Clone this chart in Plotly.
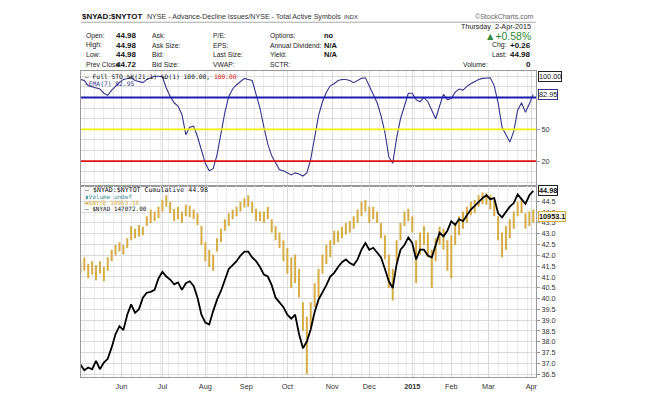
import plotly.graph_objects as go
import pandas as pd

# ---------------- data ----------------
holidays = ["2014-05-26", "2014-07-04", "2014-09-01", "2014-11-27",
            "2014-12-25", "2015-01-01", "2015-01-19", "2015-02-16"]
trade_days = pd.bdate_range("2014-05-01", "2015-04-02", freq="C", holidays=holidays)
day_idx = list(range(len(trade_days)))
sample_idx = day_idx[::2]   # one reading every second trading day

month_labels = ["Jun", "Jul", "Aug", "Sep", "Oct", "Nov", "Dec", "<b>2015</b>", "Feb", "Mar", "Apr"]

sto_levels = [80, 50, 20]
sto_level_colors = ["#1c1cb0", "#f4f000", "#e01010"]

sto = [97, 96, 91, 90, 89, 88, 84, 82, 87, 91,
       94, 97, 98, 98.6, 96, 95, 94, 97, 98.6, 100,
       100, 99.5, 89, 81, 75, 72, 64, 45, 52, 53,
       43, 30, 18, 11, 13, 26, 46, 66, 81, 88,
       92, 95, 98, 97, 96, 83, 70, 52, 36, 25,
       18, 12, 11, 8.6, 7, 9, 8, 6, 9, 22,
       43, 63, 76, 85, 91, 93, 96, 97, 97, 96,
       94, 96, 98, 98.6, 90, 83, 75, 63, 47, 24,
       18, 42, 60, 72, 84, 84, 78, 76, 80, 76,
       68, 60, 72, 83, 78, 79, 85, 88, 87, 90.5,
       93, 95, 97, 98, 98.6, 98.6, 91, 75, 52, 45,
       38, 48, 68, 75, 66, 74, 82.95]

cum = [36.95, 36.68, 36.81, 36.73, 37.12, 36.73, 37.04, 37.21, 37.74, 38.36,
       38.72, 38.54, 39.25, 39.73, 39.34, 39.51, 40.04, 40.27, 40.31, 40.40,
       40.93, 41.24, 41.02, 40.88, 40.66, 40.75, 40.40, 40.71, 40.80, 40.58,
       40.04, 39.25, 38.89, 38.80, 39.42, 39.95, 40.35, 40.84, 41.37, 41.55,
       41.73, 41.99, 42.17, 42.17, 41.90, 41.73, 41.46, 41.11, 41.02, 40.62,
       40.04, 39.82, 39.60, 39.25, 39.07, 39.25, 38.36, 37.70, 38.01, 38.58,
       39.38, 39.95, 40.27, 40.62, 41.02, 41.19, 41.46, 41.68, 41.81, 41.64,
       41.55, 41.81, 42.26, 42.57, 42.26, 42.35, 42.13, 41.90, 41.37, 40.80,
       40.48, 41.59, 42.26, 42.48, 42.83, 42.57, 41.81, 42.26, 42.26, 41.99,
       41.90, 42.53, 43.05, 42.88, 43.14, 43.58, 43.41, 43.67, 43.58, 43.85,
       44.12, 44.29, 44.47, 44.65, 44.78, 44.60, 44.65, 43.94, 43.76, 44.03,
       44.25, 44.42, 44.82, 44.60, 44.38, 44.78, 44.98]

nyse_high = [10720, 10731, 10695, 10710, 10689, 10710, 10679, 10731, 10772, 10798,
             10813, 10798, 10834, 10901, 10886, 10906, 10896, 10953, 10989, 10979,
             11005, 11041, 11067, 11031, 10994, 11005, 10979, 11015, 11010, 10989,
             10969, 10901, 10813, 10772, 10746, 10834, 10886, 10937, 10969, 10989,
             11005, 11031, 11051, 11067, 11031, 10994, 10979, 10979, 11005, 10937,
             10901, 10865, 10824, 10782, 10731, 10746, 10669, 10488, 10410, 10488,
             10591, 10669, 10746, 10798, 10824, 10875, 10875, 10896, 10917, 10927,
             10953, 10989, 11031, 11041, 11005, 11005, 10979, 10917, 10850, 10746,
             10669, 10824, 10917, 10979, 10994, 10953, 10824, 10865, 10901, 10865,
             10772, 10834, 10896, 10886, 10824, 10850, 10917, 10953, 10979, 11005,
             11031, 11041, 11067, 11082, 11077, 11067, 11041, 10953, 10865, 10901,
             10937, 10979, 11031, 11046, 10969, 10979, 10989]

nyse_low = [10643, 10658, 10617, 10638, 10607, 10643, 10601, 10658, 10710, 10741,
            10762, 10746, 10782, 10824, 10834, 10844, 10850, 10901, 10917, 10927,
            10943, 10979, 11005, 10969, 10927, 10937, 10917, 10953, 10948, 10937,
            10906, 10798, 10710, 10679, 10658, 10762, 10813, 10875, 10901, 10937,
            10953, 10979, 11000, 11005, 10969, 10927, 10927, 10917, 10937, 10865,
            10824, 10782, 10710, 10643, 10565, 10591, 10514, 10333, 10100, 10358,
            10462, 10514, 10643, 10695, 10731, 10798, 10813, 10834, 10855, 10865,
            10886, 10917, 10953, 10979, 10917, 10937, 10917, 10834, 10720, 10565,
            10498, 10710, 10824, 10901, 10927, 10865, 10591, 10746, 10798, 10731,
            10565, 10710, 10798, 10772, 10658, 10617, 10798, 10850, 10886, 10917,
            10958, 10969, 11005, 11020, 11015, 10989, 10953, 10824, 10731, 10772,
            10834, 10886, 10953, 10969, 10886, 10901, 10917]

nyse_last = 10953.16
nyad_last = 147072.00
last_close, prev_close, chg, chg_pct = 44.98, 44.72, 0.26, 0.58

# ---------------- geometry helpers ----------------
W, H = 650, 394
L, R, T, B = 73, 528, 63, 383


def px(x):
    return (x - L) / (R - L)


def py(y):
    return (B - y) / (B - T)


month_starts = [i for i in day_idx[1:] if trade_days[i].month != trade_days[i - 1].month]
week_starts = [i for i in day_idx[1:] if trade_days[i].weekday() < trade_days[i - 1].weekday()]

GOLD = "#d6ad45"
NAVY = "#34348c"
FONT = "Liberation Sans, Arial, sans-serif"
MONO = "DejaVu Sans Mono, monospace"

fig = go.Figure()

# NYSE HL bars
bx, by = [], []
for i, h, lo in zip(sample_idx, nyse_high, nyse_low):
    bx += [i, i, None]
    by += [lo, h, None]
fig.add_trace(go.Scatter(x=bx, y=by, mode="lines", line=dict(color=GOLD, width=2),
                         xaxis="x2", yaxis="y3", hoverinfo="skip", connectgaps=False))
# Cumulative line
fig.add_trace(go.Scatter(x=sample_idx, y=cum, mode="lines", line=dict(color="black", width=1.8),
                         xaxis="x2", yaxis="y4"))
# Stochastic
fig.add_trace(go.Scatter(x=sample_idx, y=sto, mode="lines", line=dict(color=NAVY, width=1.1),
                         xaxis="x", yaxis="y"))

shapes = []
for lvl, col in zip(sto_levels, sto_level_colors):
    shapes.append(dict(type="line", xref="x domain", yref="y", x0=0, x1=1, y0=lvl, y1=lvl,
                       line=dict(color=col, width=1.8)))
shapes.append(dict(type="line", xref="paper", yref="paper", x0=px(73), x1=px(528),
                   y0=py(12), y1=py(12), line=dict(color="#aaaaaa", width=1)))

ann = []


def text(x, y, s, size=7, color="#222", anchor="left", family=FONT):
    ann.append(dict(x=px(x), y=py(y), xref="paper", yref="paper", text=s, showarrow=False,
                    xanchor=anchor, yanchor="middle", font=dict(size=size, color=color, family=family)))


# header
text(72, 6, "<b>$NYAD:$NYTOT</b>", size=8, color="#111")
text(137, 6.5, "NYSE - Advance-Decline Issues/NYSE - Total Active Symbols", size=7.1, color="#333")
text(334, 6.5, "INDX", size=5.8, color="#333")
text(528, 6, "©StockCharts.com", size=7, color="#666", anchor="right")

rows = [26, 36, 46, 56]
col1 = ["Open:", "High:", "Low:", "Prev Close:"]
col1v = [last_close, last_close, last_close, prev_close]
col2 = ["Ask:", "Ask Size:", "Bid:", "Bid Size:"]
col3 = ["P/E:", "EPS:", "Last Size:", "VWAP:"]
col4 = ["Options:", "Annual Dividend:", "Yield:", "SCTR:"]
col4v = ["no", "N/A", "N/A", ""]
for y, a, av, b, c, d, dv in zip(rows, col1, col1v, col2, col3, col4, col4v):
    text(76, y, a, size=6.8)
    text(131, y, "<b>%.2f</b>" % av, size=8, color="#111", anchor="right")
    text(142, y, b, size=6.8)
    text(203, y, c, size=6.8)
    text(260, y, d, size=6.8)
    if dv:
        text(314, y, "<b>%s</b>" % dv, size=7.5, color="#111")

text(525, 16, "Thursday  2-Apr-2015", size=7.2, anchor="right")
text(525, 26, "▲+%.2f%%" % chg_pct, size=10.5, color="#2f8a3a", anchor="right")
text(482, 36, "Chg:", size=6.8)
text(525, 36, "<b>+%.2f</b>" % chg, size=8, color="#111", anchor="right")
text(482, 46, "Last:", size=6.8)
text(525, 46, "<b>%.2f</b>" % last_close, size=8, color="#111", anchor="right")
text(453, 56, "Volume:", size=6.8)
text(525, 56, "<b>0</b>", size=8, color="#111", anchor="right")

# panel legends
text(75, 68.5, "— Full STO %%K(21,1) %%D(1) 100.00, <span style='color:#e01010'>%.2f</span>" % 100,
     size=6.3, color="#111", family=MONO)
text(75, 76, "—EMA(7) %.2f" % sto[-1], size=6.3, color=NAVY, family=MONO)
text(75, 187.5, "— $NYAD:$NYTOT Cumulative %.2f" % cum[-1], size=6.6, color="#111", family=MONO)
text(75, 194, "▮Volume undef", size=6.0, color="#3a8f8f", family=MONO)
text(75, 200.5, "▬$NYSE %.2f" % nyse_last, size=6.0, color=GOLD, family=MONO)
text(75, 207, "— $NYAD %.2f" % nyad_last, size=6.0, color="#111", family=MONO)


def tag(y, yref, s, border, bg="white", bold=False):
    ann.append(dict(x=px(530), y=y, xref="paper", yref=yref, text=("<b>%s</b>" % s) if bold else s,
                    showarrow=False, xanchor="left", yanchor="middle", bgcolor=bg,
                    bordercolor=border, borderwidth=1, borderpad=0,
                    font=dict(size=7.3, color="#111", family=FONT)))


tag(100, "y", "100.00", "#222")
tag(sto[-1], "y", "%.2f" % sto[-1], NAVY)
tag(cum[-1], "y2", "%.2f" % cum[-1], "#222", bold=True)
tag(nyse_last, "y3", "%.1f" % (int(nyse_last * 10) / 10), GOLD, bg="#fffbe6", bold=True)

GRID = "#dadada"
MINOR = "#ececec"
xcommon = dict(range=[0.3, 233.4], tickvals=month_starts, showgrid=True, gridcolor=GRID,
               minor=dict(tickvals=week_starts, showgrid=True, gridcolor=MINOR),
               zeroline=False, showline=True, mirror=True, linecolor="#999", linewidth=1, ticks="")

bottom_ticks = [36.5 + 0.5 * j for j in range(17)]

fig.update_layout(
    width=W, height=H, margin=dict(l=L, r=W - R, t=T, b=H - B),
    paper_bgcolor="white", plot_bgcolor="white", showlegend=False,
    xaxis=dict(domain=[0, 1], anchor="y", showticklabels=False, **xcommon),
    xaxis2=dict(domain=[0, 1], anchor="y2", matches="x", ticktext=month_labels, showticklabels=True,
                ticklabelstandoff=2,
                tickfont=dict(size=7.3, color="#333", family=FONT), **xcommon),
    yaxis=dict(domain=[py(183), 1], anchor="x", side="right", range=[-3.15, 104.95],
               tickvals=[20, 50], ticks="outside", ticklen=3, tickcolor="#999",
               tickfont=dict(size=7.3, color="#333", family=FONT), showgrid=True, gridcolor=GRID,
               minor=dict(tickvals=list(range(0, 101, 10)), showgrid=True, gridcolor=GRID),
               zeroline=False, showline=True, mirror=True, linecolor="#999"),
    yaxis2=dict(domain=[0, py(183)], anchor="x2", side="right", range=[36.37, 45.22],
                tickvals=bottom_ticks, ticktext=["%.1f" % v for v in bottom_ticks],
                ticks="outside", ticklen=3, tickcolor="#999",
                tickfont=dict(size=7.3, color="#333", family=FONT), showgrid=True, gridcolor=GRID,
                zeroline=False, showline=True, mirror=True, linecolor="#999"),
    yaxis3=dict(overlaying="y2", anchor="x2", range=[10084, 11118], visible=False),
    yaxis4=dict(overlaying="y2", anchor="x2", range=[36.37, 45.22], visible=False),
    shapes=shapes, annotations=ann,
)

fig.write_html("out.html")
